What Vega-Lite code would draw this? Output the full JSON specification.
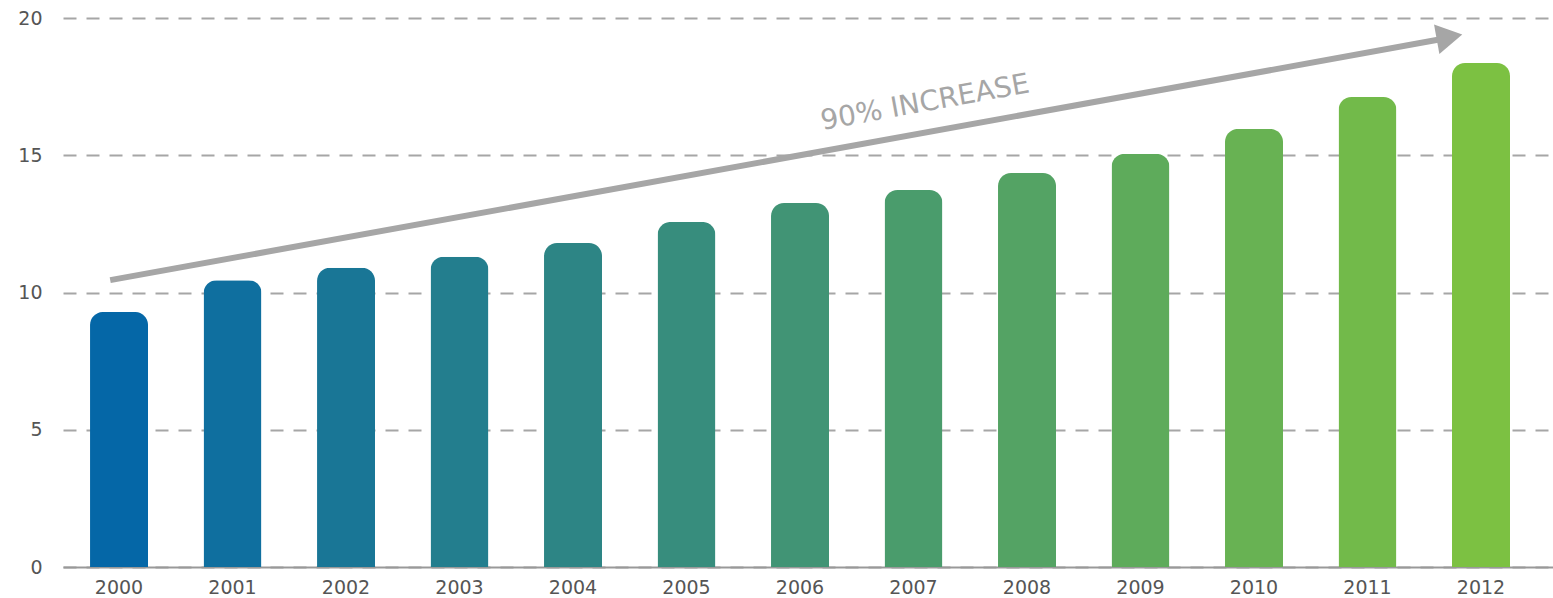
{
  "$schema": "https://vega.github.io/schema/vega-lite/v6.json",
  "autosize": "none",
  "width": 1490,
  "height": 549,
  "padding": {"left": 63, "top": 18, "right": 0, "bottom": 31},
  "background": "white",
  "config": {
    "view": {"stroke": null},
    "axis": {"labelFont": "DejaVu Sans", "labelFontSize": 19, "labelColor": "#555555"}
  },
  "datasets": {
    "bars": [
      {"year": 2000, "value": 9.29},
      {"year": 2001, "value": 10.45},
      {"year": 2002, "value": 10.9},
      {"year": 2003, "value": 11.3},
      {"year": 2004, "value": 11.8},
      {"year": 2005, "value": 12.57},
      {"year": 2006, "value": 13.26},
      {"year": 2007, "value": 13.73},
      {"year": 2008, "value": 14.35},
      {"year": 2009, "value": 15.05},
      {"year": 2010, "value": 15.96},
      {"year": 2011, "value": 17.12},
      {"year": 2012, "value": 18.36}
    ],
    "arrow": [
      {"x": -0.09, "y": 10.45, "x2": 11.68, "y2": 19.26}
    ],
    "head": [
      {"x": 11.71, "y": 19.31}
    ],
    "label": [
      {"x": 7.09, "y": 16.9, "text": "90% INCREASE"}
    ]
  },
  "layer": [
    {
      "data": {"name": "bars"},
      "mark": {"type": "bar", "cornerRadiusTopLeft": 13, "cornerRadiusTopRight": 13},
      "encoding": {
        "x": {
          "field": "year", "type": "ordinal",
          "scale": {"paddingInner": 0.489, "paddingOuter": 0.3085, "align": 0.386},
          "axis": {"title": null, "labelAngle": 0, "ticks": false, "labelPadding": 26, "labelBaseline": "alphabetic",
                   "domainColor": "#999999", "domainWidth": 2, "grid": false}
        },
        "y": {
          "field": "value", "type": "quantitative",
          "scale": {"domain": [0, 20], "nice": false},
          "axis": {"title": null, "values": [0, 5, 10, 15, 20], "ticks": false, "domain": false,
                   "labelPadding": 21, "gridColor": "#a6a6a6", "gridWidth": 2, "gridDash": [13, 10]}
        },
        "color": {
          "field": "year", "type": "quantitative",
          "scale": {"domain": [2000, 2012], "range": ["#0567a7", "#7cc142"], "interpolate": "rgb"},
          "legend": null
        }
      }
    },
    {
      "data": {"name": "arrow"},
      "mark": {"type": "rule", "color": "#a6a6a6", "strokeWidth": 6},
      "encoding": {
        "x": {"field": "x", "type": "quantitative", "scale": {"domain": [-0.506, 12.622], "nice": false, "zero": false}, "axis": null},
        "x2": {"field": "x2"},
        "y": {"field": "y", "type": "quantitative"},
        "y2": {"field": "y2"}
      }
    },
    {
      "data": {"name": "head"},
      "mark": {"type": "point", "shape": "triangle-right", "filled": true, "color": "#a6a6a6", "opacity": 1, "size": 900, "angle": 349.7},
      "encoding": {
        "x": {"field": "x", "type": "quantitative", "scale": {"domain": [-0.506, 12.622], "nice": false, "zero": false}, "axis": null},
        "y": {"field": "y", "type": "quantitative"}
      }
    },
    {
      "data": {"name": "label"},
      "mark": {"type": "text", "font": "DejaVu Sans", "fontSize": 28, "color": "#a6a6a6", "angle": 349.7, "align": "center", "baseline": "middle"},
      "encoding": {
        "x": {"field": "x", "type": "quantitative", "scale": {"domain": [-0.506, 12.622], "nice": false, "zero": false}, "axis": null},
        "y": {"field": "y", "type": "quantitative"},
        "text": {"field": "text"}
      }
    }
  ],
  "resolve": {"scale": {"x": "independent", "color": "independent"}}
}
